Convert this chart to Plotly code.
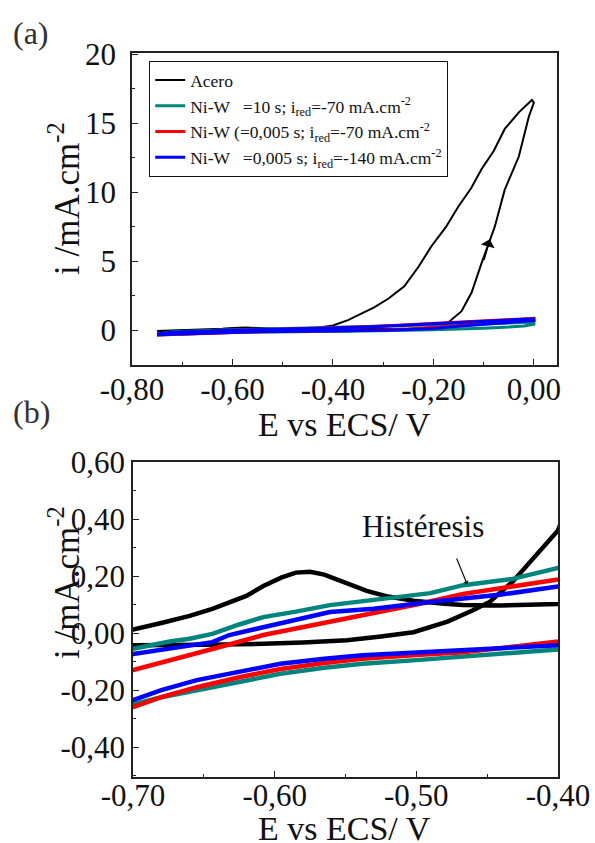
import plotly.graph_objects as go

# ---------------- data ----------------
# Acero: anodic branch (with small bump) then reverse branch
acero_E = [-0.75, -0.72, -0.70, -0.68, -0.66, -0.644, -0.62, -0.608, -0.595, -0.585, -0.575, -0.565,
           -0.555, -0.545, -0.535, -0.52, -0.502, -0.48, -0.467, -0.44, -0.42, -0.40, -0.35, -0.30, -0.25,
           -0.22, -0.198, -0.17, -0.144, -0.124, -0.104, -0.078, -0.058, -0.03, -0.01, 0.0,
           -0.004, -0.03, -0.058, -0.08, -0.104, -0.125, -0.15, -0.175, -0.204, -0.23, -0.258,
           -0.29, -0.318, -0.35, -0.37, -0.40, -0.418, -0.432, -0.448, -0.46, -0.478, -0.502,
           -0.525, -0.549, -0.58, -0.608, -0.65, -0.70, -0.75]
acero_i = [-0.03, -0.005, 0.012, 0.035, 0.06, 0.085, 0.13, 0.165, 0.195, 0.212, 0.215, 0.205,
           0.185, 0.165, 0.148, 0.128, 0.113, 0.103, 0.098, 0.097, 0.098, 0.10, 0.10, 0.10, 0.12,
           0.15, 0.2, 0.6, 1.4, 2.75, 4.9, 7.5, 10.2, 12.6, 15.5, 16.5,
           16.7, 15.8, 14.6, 13.0, 11.7, 10.3, 9.0, 7.5, 6.1, 4.6, 3.2,
           2.3, 1.67, 1.1, 0.75, 0.36, 0.26, 0.18, 0.11, 0.08, 0.04, 0.003,
           -0.012, -0.025, -0.033, -0.038, -0.041, -0.043, -0.045]

# Ni-W tau=10 s; i_red=-70 mA.cm-2
teal_E = [-0.75, -0.72, -0.70, -0.68, -0.655, -0.625, -0.596, -0.565, -0.538, -0.50, -0.467, -0.435,
          -0.40, -0.35, -0.30, -0.25, -0.20, -0.15, -0.10, -0.05, -0.02, 0.0,
          0.0, -0.05, -0.10, -0.15, -0.20, -0.25, -0.30, -0.35, -0.40, -0.432, -0.467, -0.49,
          -0.514, -0.54, -0.561, -0.585, -0.608, -0.625, -0.644, -0.66, -0.674, -0.70, -0.72, -0.75]
teal_i = [-0.33, -0.28, -0.25, -0.225, -0.20, -0.17, -0.143, -0.122, -0.108, -0.095, -0.085, -0.075,
          -0.066, -0.05, -0.02, 0.02, 0.06, 0.10, 0.16, 0.25, 0.33, 0.45,
          0.62, 0.55, 0.50, 0.44, 0.40, 0.35, 0.31, 0.27, 0.228, 0.19, 0.168, 0.14,
          0.126, 0.11, 0.098, 0.075, 0.056, 0.03, -0.003, -0.02, -0.03, -0.055, -0.10, -0.25]

# Ni-W tau=0,005 s; i_red=-70 mA.cm-2
red_E = [-0.75, -0.72, -0.70, -0.68, -0.655, -0.625, -0.596, -0.565, -0.538, -0.50, -0.467, -0.435,
         -0.40, -0.35, -0.30, -0.25, -0.20, -0.15, -0.10, -0.05, 0.0,
         0.0, -0.05, -0.10, -0.15, -0.20, -0.25, -0.30, -0.35, -0.40, -0.435, -0.467, -0.50,
         -0.538, -0.57, -0.608, -0.644, -0.67, -0.70, -0.72, -0.75]
red_i = [-0.33, -0.29, -0.26, -0.225, -0.19, -0.155, -0.126, -0.105, -0.09, -0.077, -0.067, -0.05,
         -0.032, 0.0, 0.04, 0.10, 0.20, 0.35, 0.55, 0.65, 0.75,
         0.88, 0.78, 0.68, 0.57, 0.48, 0.40, 0.32, 0.25, 0.188, 0.16, 0.137, 0.10,
         0.063, 0.03, -0.007, -0.056, -0.09, -0.13, -0.18, -0.28]

# Ni-W tau=0,005 s; i_red=-140 mA.cm-2
blue_E = [-0.75, -0.72, -0.70, -0.68, -0.655, -0.625, -0.596, -0.565, -0.538, -0.50, -0.467, -0.435,
          -0.40, -0.35, -0.30, -0.25, -0.20, -0.15, -0.10, -0.05, 0.0,
          0.0, -0.05, -0.10, -0.15, -0.20, -0.25, -0.30, -0.35, -0.40, -0.44, -0.49, -0.53,
          -0.561, -0.60, -0.632, -0.644, -0.67, -0.70, -0.72, -0.75]
blue_i = [-0.30, -0.265, -0.235, -0.20, -0.165, -0.135, -0.108, -0.09, -0.078, -0.068, -0.06, -0.052,
          -0.043, -0.02, 0.02, 0.07, 0.15, 0.30, 0.45, 0.60, 0.72,
          0.85, 0.75, 0.65, 0.55, 0.46, 0.38, 0.30, 0.23, 0.163, 0.135, 0.109, 0.085,
          0.074, 0.03, -0.007, -0.032, -0.05, -0.074, -0.12, -0.25]

legend_names = [
    "Acero",
    "Ni-W \u00a0\u00a0=10 s; i<sub>red</sub>=-70 mA.cm<sup>-2</sup>",
    "Ni-W (=0,005 s; i<sub>red</sub>=-70 mA.cm<sup>-2</sup>",
    "Ni-W \u00a0\u00a0=0,005 s; i<sub>red</sub>=-140 mA.cm<sup>-2</sup>",
]

xa_vals = [-0.8, -0.6, -0.4, -0.2, 0.0]
xa_text = ["-0,80", "-0,60", "-0,40", "-0,20", "0,00"]
ya_vals = [0, 5, 10, 15, 20]
ya_text = ["0", "5", "10", "15", "20"]
xb_vals = [-0.7, -0.6, -0.5, -0.4]
xb_text = ["-0,70", "-0,60", "-0,50", "-0,40"]
yb_vals = [-0.4, -0.2, 0.0, 0.2, 0.4, 0.6]
yb_text = ["-0,40", "-0,20", "0,00", "0,20", "0,40", "0,60"]

# ---------------- figure ----------------
W, H = 595, 843
FONT = "Liberation Serif"
series = [
    (acero_E, acero_i, "#000000", 2.0, 4.5),
    (teal_E, teal_i, "#00857c", 3.0, 4.5),
    (red_E, red_i, "#ff0000", 3.0, 4.5),
    (blue_E, blue_i, "#0000ff", 3.0, 4.5),
]

fig = go.Figure()
for (E, I, col, wa, wb), name in zip(series, legend_names):
    fig.add_trace(go.Scatter(x=E, y=I, mode="lines", name=name,
                             line=dict(color=col, width=wa), xaxis="x", yaxis="y",
                             showlegend=True))
for (E, I, col, wa, wb), name in zip(series, legend_names):
    fig.add_trace(go.Scatter(x=E, y=I, mode="lines", name=name,
                             line=dict(color=col, width=wb), xaxis="x2", yaxis="y2",
                             showlegend=False))


def px_x(p):
    return p / W


def px_y(p):
    return 1 - p / H


axis_common = dict(showline=True, linecolor="#222222", linewidth=1.5, mirror=True,
                   ticks="inside", ticklen=6, tickwidth=1.2, tickcolor="#222222",
                   showgrid=False, zeroline=False, automargin=False,
                   tickfont=dict(family=FONT, size=31, color="#111111"))

fig.update_layout(
    template="none",
    width=W, height=H,
    margin=dict(l=0, r=0, t=0, b=0, autoexpand=False),
    paper_bgcolor="white", plot_bgcolor="white",
    font=dict(family=FONT, color="#111111"),
    showlegend=True,
    xaxis=dict(domain=[px_x(132), px_x(557)], anchor="y", range=[-0.8, 0.046],
               tickmode="array", tickvals=xa_vals, ticktext=xa_text,
               ticklabelstandoff=-4,
               minor=dict(dtick=0.1, ticks="inside", ticklen=3, tickcolor="#222222"),
               **axis_common),
    yaxis=dict(domain=[px_y(365), px_y(53)], anchor="x", range=[-2.5, 20.1],
               tickmode="array", tickvals=ya_vals, ticktext=ya_text,
               ticklabelstandoff=8,
               minor=dict(dtick=2.5, ticks="inside", ticklen=3, tickcolor="#222222"),
               **axis_common),
    xaxis2=dict(domain=[px_x(133), px_x(558)], anchor="y2", range=[-0.7, -0.4],
                tickmode="array", tickvals=xb_vals, ticktext=xb_text,
                ticklabelstandoff=-10,
                minor=dict(dtick=0.05, ticks="inside", ticklen=3, tickcolor="#222222"),
                **axis_common),
    yaxis2=dict(domain=[px_y(777), px_y(462)], anchor="x2", range=[-0.505, 0.6],
                tickmode="array", tickvals=yb_vals, ticktext=yb_text,
                minor=dict(dtick=0.1, ticks="inside", ticklen=3, tickcolor="#222222"),
                **axis_common),
    legend=dict(x=px_x(149), y=px_y(61), xanchor="left", yanchor="top",
                bgcolor="white", bordercolor="#111111", borderwidth=1.2,
                font=dict(family=FONT, size=17.5, color="#111111"),
                tracegroupgap=0),
)


def text_ann(text, x, y, size, color="#111111", angle=0):
    return dict(text=text, x=px_x(x), y=px_y(y), xref="paper", yref="paper",
                xanchor="center", yanchor="middle", textangle=angle,
                showarrow=False, font=dict(family=FONT, size=size, color=color))


ann = [
    text_ann("(a)", 31, 33, 32, "#333333"),
    text_ann("(b)", 31, 412, 32, "#333333"),
    text_ann("E vs ECS/ V", 344, 424, 34),
    text_ann("E vs ECS/ V", 344, 828, 34),
    text_ann("i /mA.cm<sup>-2</sup>", 64, 199, 35, angle=-90),
    text_ann("i /mA.cm<sup>-2</sup>", 64, 583, 35, angle=-90),
    text_ann("Histéresis", 423, 526, 31),
]
# arrow on Acero curve (a)
ann.append(dict(text="", x=-0.088, y=6.6, xref="x", yref="y", showarrow=True,
                arrowhead=1, arrowsize=1.6, arrowwidth=1.5, arrowcolor="#000000",
                ax=-6, ay=22))
# Histéresis arrow (b)
ann.append(dict(text="", x=-0.4642, y=0.172, xref="x2", yref="y2", showarrow=True,
                arrowhead=1, arrowsize=0.8, arrowwidth=1.2, arrowcolor="#111111",
                ax=-11, ay=-27))
fig.update_layout(annotations=ann)

fig.write_html("out.html")
